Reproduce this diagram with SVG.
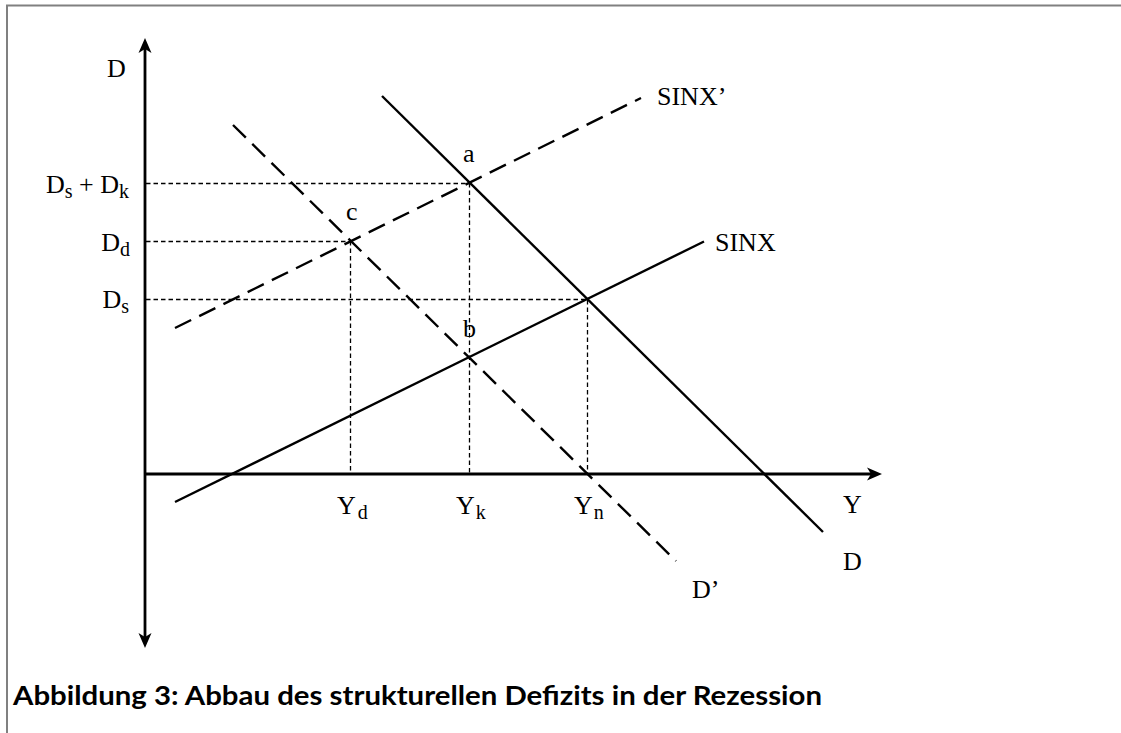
<svg xmlns="http://www.w3.org/2000/svg" width="1121" height="733" viewBox="0 0 1121 733">
<style>
.axis{stroke:#000;stroke-width:2.8;fill:none}
.curve{stroke:#000;stroke-width:2.4;fill:none}
.dash{stroke-dasharray:18 9}
.guide{stroke:#000;stroke-width:1.3;fill:none;stroke-dasharray:4.5 3}
.lbl{font-family:"Liberation Serif","Times New Roman",serif;font-size:26px;fill:#000}
.sub{font-size:20px}
.cap{font-family:Lato,"Open Sans",sans-serif;font-weight:bold;font-size:26px;fill:#000}
</style>
<defs>
<marker id="arr" markerUnits="userSpaceOnUse" markerWidth="30" markerHeight="30" viewBox="-10 -10 30 20" refX="0" refY="0" orient="auto" overflow="visible">
<path d="M10,0 L-5,-6.5 L-1,0 L-5,6.5 Z" fill="#000"/>
</marker>
</defs>
<rect width="1121" height="733" fill="#fff"/>
<g id="frame">
<path d="M7,733 V5.5 H1121" fill="none" stroke="#808080" stroke-width="2"/>
</g>
<g id="guides">
<line class="guide" x1="146" y1="183.5" x2="469" y2="183.5"/>
<line class="guide" x1="146" y1="241.5" x2="350" y2="241.5"/>
<line class="guide" x1="146" y1="299.5" x2="587" y2="299.5"/>
<line class="guide" x1="350.5" y1="241" x2="350.5" y2="473"/>
<line class="guide" x1="469.5" y1="183" x2="469.5" y2="473"/>
<line class="guide" x1="587.5" y1="300" x2="587.5" y2="473"/>
</g>
<g id="axes">
<line class="axis" x1="145" y1="474" x2="145" y2="48" marker-end="url(#arr)"/>
<line class="axis" x1="145" y1="474" x2="145" y2="638" marker-end="url(#arr)"/>
<line class="axis" x1="145" y1="474" x2="872" y2="474" marker-end="url(#arr)"/>
</g>
<g id="connectors">
<line id="SINX" class="curve" x1="175" y1="502" x2="704" y2="241.5"/>
<line id="SINX2" class="curve dash" x1="175" y1="328" x2="641" y2="98"/>
<line id="Dline" class="curve" x1="382" y1="96" x2="823" y2="532"/>
<line id="D2line" class="curve dash" x1="233" y1="125" x2="676" y2="561"/>
</g>
<g id="labels">
<text class="lbl" x="107" y="77">D</text>
<text class="lbl" x="129" y="193" text-anchor="end">D<tspan class="sub" dy="5">s</tspan><tspan dy="-5"> + D</tspan><tspan class="sub" dy="5">k</tspan></text>
<text class="lbl" x="130" y="251" text-anchor="end">D<tspan class="sub" dy="5">d</tspan></text>
<text class="lbl" x="129" y="308" text-anchor="end">D<tspan class="sub" dy="5">s</tspan></text>
<text class="lbl" x="463" y="162">a</text>
<text class="lbl" x="463" y="337">b</text>
<text class="lbl" x="346" y="220">c</text>
<text class="lbl" x="657" y="105">SINX’</text>
<text class="lbl" x="715" y="251">SINX</text>
<text class="lbl" x="337" y="514">Y<tspan class="sub" dx="2" dy="5">d</tspan></text>
<text class="lbl" x="456" y="514">Y<tspan class="sub" dx="1" dy="5">k</tspan></text>
<text class="lbl" x="574" y="514">Y<tspan class="sub" dx="1" dy="5">n</tspan></text>
<text class="lbl" x="843" y="513">Y</text>
<text class="lbl" x="843" y="570">D</text>
<text class="lbl" x="692" y="598">D’</text>
</g>
<g id="caption">
<text class="cap" x="13" y="705" textLength="809" lengthAdjust="spacingAndGlyphs">Abbildung 3: Abbau des strukturellen Defizits in der Rezession</text>
</g>
</svg>
